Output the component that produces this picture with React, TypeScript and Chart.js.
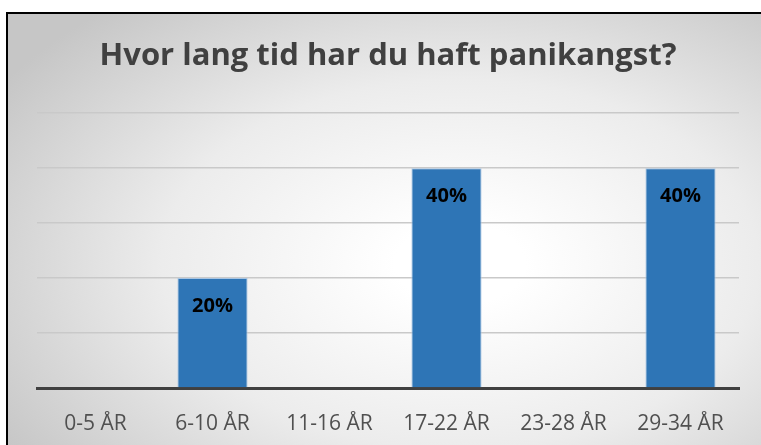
import { useEffect, useRef } from "react";
import { Chart, registerables } from "chart.js";

Chart.register(...registerables);

const chartTitle = "Hvor lang tid har du haft panikangst?";
const categories = ["0-5 ÅR", "6-10 ÅR", "11-16 ÅR", "17-22 ÅR", "23-28 ÅR", "29-34 ÅR"];
const shares = [0, 0.2, 0, 0.4, 0, 0.4];
const yMin = 0;
const yMax = 0.5;
const yStep = 0.1;

const dataLabelPlugin = {
  id: "dataLabels",
  afterDatasetsDraw(chart: any) {
    const ctx = chart.ctx;
    const meta = chart.getDatasetMeta(0);
    ctx.save();
    ctx.font = "bold 20px 'Open Sans'";
    ctx.fillStyle = "#000000";
    ctx.textAlign = "center";
    ctx.textBaseline = "middle";
    meta.data.forEach((bar: any, i: number) => {
      const v = shares[i];
      if (!v) return;
      ctx.fillText(Math.round(v * 100) + "%", bar.x, bar.y + 28);
    });
    ctx.restore();
  },
};

export default function App() {
  const ref = useRef<HTMLCanvasElement | null>(null);

  useEffect(() => {
    if (!ref.current) return;
    const chart = new Chart(ref.current, {
      type: "bar",
      data: {
        labels: categories,
        datasets: [
          {
            data: shares,
            backgroundColor: "#2E75B6",
            borderColor: "#a8c5e3",
            borderWidth: 1,
            categoryPercentage: 0.6,
            barPercentage: 1,
          },
        ],
      },
      options: {
        responsive: true,
        maintainAspectRatio: false,
        animation: false,
        layout: { padding: { left: 29, right: 22, top: 0, bottom: 0 } },
        plugins: {
          legend: { display: false },
          tooltip: { enabled: false },
          title: {
            display: true,
            text: chartTitle,
            color: "#404040",
            font: { family: "'Open Sans'", size: 31, weight: "bold" },
            padding: { top: 24, bottom: 38 },
          },
        },
        scales: {
          x: {
            grid: { display: false, drawTicks: false },
            border: { display: true, color: "#404040", width: 3 },
            ticks: {
              color: "#505050",
              font: { family: "'Open Sans'", size: 21 },
              padding: 23.4,
              maxRotation: 0,
            },
          },
          y: {
            min: yMin,
            max: yMax,
            ticks: { display: false, stepSize: yStep },
            grid: { color: "#c9c9c9", lineWidth: 1.5, drawTicks: false },
            border: { display: false },
          },
        },
      },
      plugins: [dataLabelPlugin],
    });
    return () => chart.destroy();
  }, []);

  return (
    <div
      style={{
        position: "fixed",
        left: 6,
        top: 12,
        width: 755,
        height: 433,
        boxSizing: "border-box",
        overflow: "hidden",
        borderTop: "2px solid #000",
        borderLeft: "2px solid #000",
        background:
          "radial-gradient(ellipse 72% 78% at 60% 58%, #ffffff 0%, #ffffff 12%, #ececec 55%, #c6c6c6 100%)",
      }}
    >
      <div style={{ position: "relative", width: 753, height: 446 }}>
        <canvas ref={ref} />
      </div>
    </div>
  );
}
